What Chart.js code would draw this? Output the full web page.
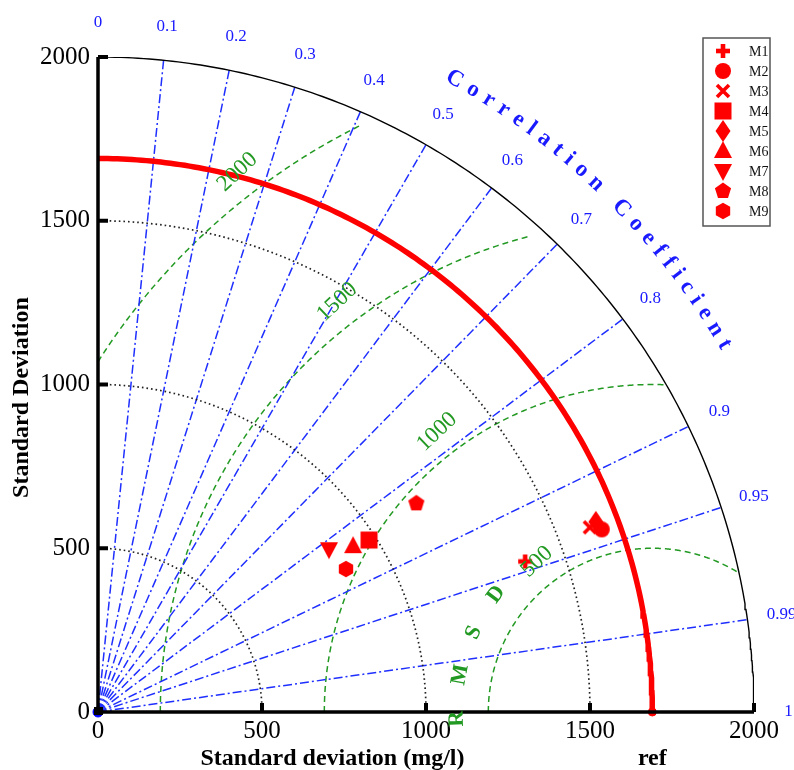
<!DOCTYPE html>
<html>
<head>
<meta charset="utf-8">
<title>Taylor diagram</title>
<script src="https://cdn.jsdelivr.net/npm/chart.js@4.4.1/dist/chart.umd.min.js"></script>
<style>
  html, body { margin: 0; padding: 0; background: #fff; }
  #wrap { width: 794px; height: 770px; }
</style>
</head>
<body>
<div id="wrap"><canvas id="taylor" width="794" height="770"></canvas></div>
<script>
// values (std in mg/l, correlation with the reference)
const models = ['M1', 'M2', 'M3', 'M4', 'M5', 'M6', 'M7', 'M8', 'M9'];
const modelStd = [1381, 1634, 1602, 979, 1625, 928, 862, 1161, 873];
const modelCorr = [0.943, 0.940, 0.936, 0.844, 0.934, 0.838, 0.817, 0.836, 0.866];
const refStd = 1690;
const stdMax = 2000;
const stdTicks = [0, 500, 1000, 1500, 2000];
const stdArcs = [500, 1000, 1500];
const corrTicks = [0, 0.1, 0.2, 0.3, 0.4, 0.5, 0.6, 0.7, 0.8, 0.9, 0.95, 0.99, 1];
const rmsLevels = [500, 1000, 1500, 2000];

// drawing settings
const markerKinds = ['plus', 'circle', 'cross', 'square', 'diamond', 'triangle', 'triangleDown', 'pentagon', 'hexagon'];
const rmsClip = [2000, 2000, 1962, 1962];
const RED = '#ff0000', BLUE = '#1a1aff', GREEN = '#229922';
const SERIF = '"Liberation Serif", "Times New Roman", serif';

function polar(r, ang) {
    return { x: r * Math.cos(ang), y: r * Math.sin(ang) };
}

function arcPoints(r, a0, a1, n) {
    const pts = [];
    for (let i = 0; i <= n; i++) pts.push(polar(r, a0 + (a1 - a0) * i / n));
    return pts;
}

function rmsArc(level, limit) {
    const pts = [];
    const start = level > refStd ? Math.acos(-refStd / level) : Math.PI;
    for (let t = start; t >= 0; t -= Math.PI / 900) {
        const p = { x: refStd + level * Math.cos(t), y: level * Math.sin(t) };
        if (Math.hypot(p.x, p.y) > limit) break;
        pts.push(p);
    }
    return pts;
}

function makeMarker(kind) {
    const c = document.createElement('canvas');
    c.width = 26; c.height = 26;
    const g = c.getContext('2d');
    g.fillStyle = RED; g.strokeStyle = RED;
    g.translate(13, 13);
    const poly = pts => {
        g.beginPath();
        pts.forEach((p, i) => i ? g.lineTo(p[0], p[1]) : g.moveTo(p[0], p[1]));
        g.closePath(); g.fill();
    };
    const regular = (n, r) => {
        const pts = [];
        for (let i = 0; i < n; i++) {
            const a = -Math.PI / 2 + i * 2 * Math.PI / n;
            pts.push([r * Math.cos(a), r * Math.sin(a)]);
        }
        poly(pts);
    };
    switch (kind) {
        case 'plus':
            g.fillRect(-7, -2.3, 14, 4.6); g.fillRect(-2.3, -7, 4.6, 14); break;
        case 'circle':
            g.beginPath(); g.arc(0, 0, 8, 0, 2 * Math.PI); g.fill(); break;
        case 'cross':
            g.lineWidth = 3.6; g.beginPath();
            g.moveTo(-6, -6); g.lineTo(6, 6); g.moveTo(6, -6); g.lineTo(-6, 6); g.stroke(); break;
        case 'square':
            g.fillRect(-8.5, -8.5, 17, 17); break;
        case 'diamond':
            poly([[0, -11], [7.5, 0], [0, 11], [-7.5, 0]]); break;
        case 'triangle':
            poly([[0, -10], [9, 7], [-9, 7]]); break;
        case 'triangleDown':
            poly([[0, 10], [9, -7], [-9, -7]]); break;
        case 'pentagon':
            regular(5, 8.5); break;
        case 'hexagon':
            regular(6, 8.3); break;
    }
    return c;
}

const markerImgs = markerKinds.map(makeMarker);

const datasets = [];

// models
models.forEach((m, i) => {
    datasets.push({
        label: m,
        data: [polar(modelStd[i], Math.acos(modelCorr[i]))],
        pointStyle: markerImgs[i],
        pointRadius: 9,
        order: 0,
        clip: false
    });
});

// reference point and origin
datasets.push({ label: 'ref', data: [{ x: refStd, y: 0 }], pointRadius: 4, backgroundColor: RED, borderColor: RED, order: 0, clip: false });
datasets.push({ label: 'origin', data: [{ x: 0, y: 0 }], pointRadius: 5, backgroundColor: '#0000ff', borderColor: '#0000ff', order: 0, clip: false });

// reference std arc
datasets.push({
    label: 'refArc', data: arcPoints(refStd, 0, Math.PI / 2, 180),
    showLine: true, pointRadius: 0, borderColor: RED, borderWidth: 5.5, order: 1
});

// outer std arc
datasets.push({
    label: 'outer', data: arcPoints(stdMax, 0, Math.PI / 2, 180),
    showLine: true, pointRadius: 0, borderColor: '#000', borderWidth: 1.4, order: 2
});

// dotted std arcs
stdArcs.forEach(s => {
    datasets.push({
        label: 'std' + s, data: arcPoints(s, 0, Math.PI / 2, 120),
        showLine: true, pointRadius: 0, borderColor: '#222', borderWidth: 1.7,
        borderDash: [1.6, 3], order: 3
    });
});

// correlation rays
corrTicks.filter(c => c > 0 && c < 1).forEach(c => {
    const a = Math.acos(c);
    datasets.push({
        label: 'corr' + c, data: [{ x: 0, y: 0 }, polar(stdMax, a)],
        showLine: true, pointRadius: 0, borderColor: '#1f2fff', borderWidth: 1.5,
        borderDash: [9, 3, 2, 3], order: 3
    });
});

// centred RMS difference arcs
rmsLevels.forEach((lv, i) => {
    datasets.push({
        label: 'rms' + lv, data: rmsArc(lv, rmsClip[i]),
        showLine: true, pointRadius: 0, borderColor: GREEN, borderWidth: 1.5,
        borderDash: [6, 4], order: 3
    });
});

const taylorDecor = {
    id: 'taylorDecor',
    afterDatasetsDraw(chart) {
        const { ctx, chartArea } = chart;
        const xs = chart.scales.x, ys = chart.scales.y;
        const px = v => xs.getPixelForValue(v);
        const py = v => ys.getPixelForValue(v);
        const ox = px(0), oy = py(0);
        ctx.save();

        // axes with inward ticks
        ctx.strokeStyle = '#000';
        ctx.lineWidth = 3.5;
        ctx.beginPath();
        ctx.moveTo(ox, py(stdMax)); ctx.lineTo(ox, oy); ctx.lineTo(px(stdMax), oy);
        ctx.stroke();
        ctx.lineWidth = 4;
        stdTicks.filter(v => v > 0).forEach(v => {
            ctx.beginPath(); ctx.moveTo(px(v), oy); ctx.lineTo(px(v), oy - 9); ctx.stroke();
            ctx.beginPath(); ctx.moveTo(ox, py(v)); ctx.lineTo(ox + 10, py(v)); ctx.stroke();
        });
        ctx.fillStyle = '#000';
        ctx.fillRect(ox - 4, oy - 5, 9, 8);

        // correlation tick labels
        ctx.fillStyle = BLUE;
        ctx.font = '17px ' + SERIF;
        ctx.textAlign = 'center';
        ctx.textBaseline = 'middle';
        corrTicks.forEach(c => {
            const p = polar(2105, Math.acos(c));
            ctx.fillText(String(c), px(p.x), py(p.y));
        });

        // "Correlation Coefficient" along the arc
        const title = 'Correlation Coefficient';
        ctx.font = 'bold 23px ' + SERIF;
        const R = px(2215) - ox;
        const a0 = 60.6 * Math.PI / 180, a1 = 30.4 * Math.PI / 180;
        const w = [...title].map(ch => ctx.measureText(ch).width);
        let centres = [], acc = 0;
        w.forEach((wi, i) => { centres.push(acc + wi / 2); acc += wi; });
        const natural = centres[centres.length - 1] - centres[0];
        const gap = (R * (a0 - a1) - natural) / (w.length - 1);
        [...title].forEach((ch, i) => {
            const s = centres[i] - centres[0] + gap * i;
            const a = a0 - s / R;
            ctx.save();
            ctx.translate(ox + R * Math.cos(a), oy - R * Math.sin(a));
            ctx.rotate(Math.PI / 2 - a);
            ctx.fillText(ch, 0, 0);
            ctx.restore();
        });

        // RMS contour labels
        ctx.fillStyle = GREEN;
        ctx.font = '23px ' + SERIF;
        rmsLevels.forEach(lv => {
            const t = 127.5 * Math.PI / 180;
            const r = lv + 78;
            const x = px(refStd + r * Math.cos(t)), y = py(r * Math.sin(t));
            ctx.save();
            ctx.translate(x, y);
            ctx.rotate(Math.PI / 2 - t - 0.1);
            ctx.fillText(String(lv), 0, 0);
            ctx.restore();
        });

        // "RMSD" letters around the reference
        ctx.font = 'bold 22px ' + SERIF;
        [...'RMSD'].forEach((ch, i) => {
            const t = (182 - 13 * i) * Math.PI / 180;
            const r = 596;
            ctx.save();
            ctx.translate(px(refStd + r * Math.cos(t)), py(r * Math.sin(t)));
            ctx.rotate(Math.PI / 2 - t);
            ctx.fillText(ch, 0, 0);
            ctx.restore();
        });

        // axis titles and ref label
        ctx.fillStyle = '#000';
        ctx.font = 'bold 24px ' + SERIF;
        ctx.textBaseline = 'alphabetic';
        ctx.fillText('Standard deviation (mg/l)', px(715), 765);
        ctx.fillText('ref', px(refStd), 765);
        ctx.save();
        ctx.translate(28, py(960));
        ctx.rotate(-Math.PI / 2);
        ctx.fillText('Standard Deviation', 0, 0);
        ctx.restore();

        // legend
        const lx = chartArea.right - 51, ly = chartArea.top - 19;
        ctx.fillStyle = '#fff';
        ctx.fillRect(lx, ly, 67, 188);
        ctx.strokeStyle = '#555';
        ctx.lineWidth = 1.5;
        ctx.strokeRect(lx, ly, 67, 188);
        ctx.font = '14px ' + SERIF;
        ctx.textAlign = 'left';
        ctx.textBaseline = 'middle';
        ctx.fillStyle = '#111';
        models.forEach((m, i) => {
            const y = ly + 13 + 20 * i;
            const img = markerImgs[i];
            ctx.drawImage(img, lx + 20 - img.width / 2, y - img.height / 2);
            ctx.fillText(m, lx + 46, y + 1);
        });

        ctx.restore();
    }
};

new Chart(document.getElementById('taylor').getContext('2d'), {
    type: 'scatter',
    data: { datasets: datasets },
    options: {
        responsive: false,
        animation: false,
        events: [],
        layout: { padding: { top: 57, right: 40, left: 0, bottom: 0 } },
        elements: { line: { tension: 0, fill: false } },
        plugins: {
            legend: { display: false },
            tooltip: { enabled: false }
        },
        scales: {
            x: {
                type: 'linear', min: 0, max: stdMax, position: 'bottom',
                afterBuildTicks: s => { s.ticks = stdTicks.map(v => ({ value: v })); },
                ticks: { font: { family: 'Liberation Serif', size: 25 }, color: '#000', padding: 4, maxRotation: 0, callback: v => String(v) },
                grid: { display: false, drawTicks: false },
                border: { display: false },
                afterFit: s => { s.height = 58; }
            },
            y: {
                type: 'linear', min: 0, max: stdMax, position: 'left',
                afterBuildTicks: s => { s.ticks = stdTicks.map(v => ({ value: v })); },
                ticks: { font: { family: 'Liberation Serif', size: 25 }, color: '#000', padding: 8, callback: v => String(v) },
                grid: { display: false, drawTicks: false },
                border: { display: false },
                afterFit: s => { s.width = 98; }
            }
        }
    },
    plugins: [taylorDecor]
});
</script>
</body>
</html>
